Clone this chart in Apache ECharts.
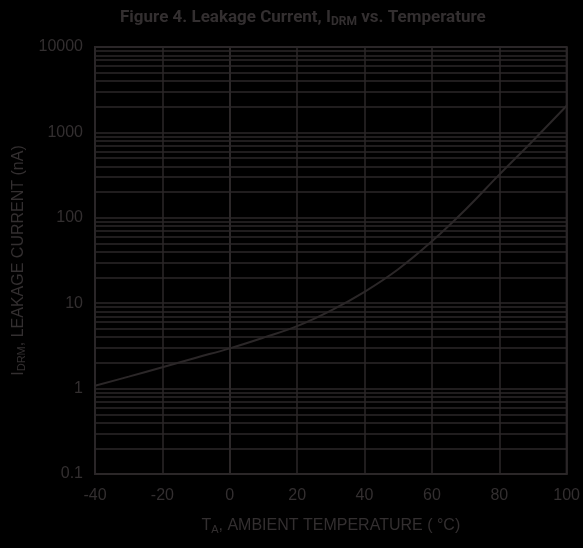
<!DOCTYPE html>
<html>
<head>
<meta charset="utf-8">
<script src="https://cdn.jsdelivr.net/npm/echarts@6/dist/echarts.min.js"></script>
<style>
html,body{margin:0;padding:0;background:#000;}
#c{width:583px;height:548px;}
</style>
</head>
<body>
<div id="c"></div>
<script>
const temps = [-40, -30, -20, -10, 0, 10, 20, 30, 40, 50, 60, 70, 80, 90, 100];
const leakage = [1.08, 1.38, 1.78, 2.3, 2.96, 3.95, 5.4, 8.2, 13.6, 25, 53, 125, 320, 800, 2050];
const xTicks = [-40, -20, 0, 20, 40, 60, 80, 100];
const yDecades = [0.1, 1, 10, 100, 1000, 10000];
const minorMultipliers = [2, 3, 4, 5, 6, 7, 8, 9];

const lineCol = '#2b2728';
const textCol = '#332f30';
const font = '"Liberation Sans", Arial, Helvetica, sans-serif';
const titleFont = 'Roboto, "Liberation Sans", Arial, sans-serif';

const minorVals = [];
for (let i = 0; i < yDecades.length - 1; i++) {
  minorMultipliers.forEach(m => minorVals.push(+(yDecades[i] * m).toPrecision(6)));
}

const chart = echarts.init(document.getElementById('c'), null, {renderer: 'canvas'});
chart.setOption({
  backgroundColor: '#000',
  animation: false,
  title: {
    text: 'Figure 4. Leakage Current, I{s|DRM} vs. Temperature',
    left: 115, top: 3,
    textStyle: {
      color: textCol, fontSize: 17, fontWeight: 'bold', fontFamily: titleFont,
      rich: { s: { color: textCol, fontSize: 12, fontWeight: 'bold', fontFamily: titleFont, padding: [8, 0, 0, 0] } }
    }
  },
  grid: { left: 95, right: 13, top: 47, bottom: 74, show: true, borderColor: lineCol, borderWidth: 2, backgroundColor: 'transparent' },
  xAxis: {
    type: 'value', min: xTicks[0], max: xTicks[xTicks.length - 1], interval: 20,
    axisLine: { show: true, lineStyle: { color: lineCol, width: 2 } },
    axisTick: { show: false },
    splitLine: { show: true, lineStyle: { color: lineCol, width: 1.5 } },
    axisLabel: { color: textCol, fontSize: 16, fontFamily: font, margin: 14 },
    name: 'T{s|A}, AMBIENT TEMPERATURE ( °C)',
    nameLocation: 'middle', nameGap: 42,
    nameTextStyle: { color: textCol, fontSize: 16, fontFamily: font,
      rich: { s: { color: textCol, fontSize: 11, fontFamily: font, padding: [8, 0, 0, 0] } } }
  },
  yAxis: {
    type: 'log', logBase: 10, min: yDecades[0], max: yDecades[yDecades.length - 1],
    axisLine: { show: true, lineStyle: { color: lineCol, width: 2 } },
    axisTick: { show: false },
    splitLine: { show: true, lineStyle: { color: lineCol, width: 1.5 } },
    axisLabel: { color: textCol, fontSize: 16, fontFamily: font, margin: 12,
      formatter: v => String(+v.toPrecision(6)) },
    name: 'I{s|DRM}, LEAKAGE CURRENT (nA)',
    nameLocation: 'middle', nameGap: 65,
    nameTextStyle: { color: textCol, fontSize: 16, fontFamily: font,
      rich: { s: { color: textCol, fontSize: 11, fontFamily: font, padding: [8, 0, 0, 0] } } }
  },
  series: [{
    type: 'line',
    data: temps.map((t, i) => [t, leakage[i]]),
    smooth: 0.4,
    showSymbol: false,
    lineStyle: { color: lineCol, width: 2 },
    z: 5,
    markLine: {
      silent: true, symbol: ['none', 'none'], label: { show: false },
      lineStyle: { color: lineCol, width: 1.5, type: 'solid' },
      animation: false,
      data: minorVals.map(v => ({ yAxis: v }))
    }
  }]
});
</script>
</body>
</html>
